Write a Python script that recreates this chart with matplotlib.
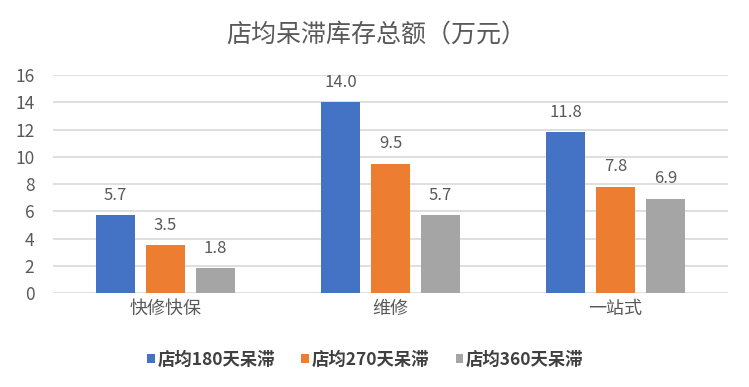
import matplotlib
matplotlib.use("Agg")
import matplotlib.pyplot as plt
import numpy as np

plt.rcParams['font.family'] = ['Noto Sans CJK SC', 'DejaVu Sans']

categories = ['快修快保', '维修', '一站式']
series_names = ['店均180天呆滞', '店均270天呆滞', '店均360天呆滞']
v180 = [5.7, 14.0, 11.8]
v270 = [3.5, 9.5, 7.8]
v360 = [1.8, 5.7, 6.9]
colors = ['#4472C4', '#ED7D31', '#A5A5A5']
yticks = [0, 2, 4, 6, 8, 10, 12, 14, 16]

fig = plt.figure(figsize=(7.49, 3.87), dpi=100)
ax = fig.add_axes([0.0708, 0.2429, 0.901, 0.563])

x = np.arange(len(categories))
width = 0.173
step = 0.222
for j, (vals, name, c) in enumerate(zip([v180, v270, v360], series_names, colors)):
    pos = x + (j - 1) * step
    ax.bar(pos, vals, width, color=c, label=name, zorder=3)
    for p, v in zip(pos, vals):
        ax.text(p, v + 0.85, f'{v:.1f}', ha='center', va='bottom', fontsize=12, color='#595959')

ax.set_xlim(-0.5, 2.5)
ax.set_ylim(0, 16)
ax.set_yticks(yticks)
ax.set_xticks(x)
ax.set_xticklabels(categories)
ax.tick_params(axis='both', length=0, labelcolor='#595959')
ax.tick_params(axis='y', pad=13.5, labelsize=12.5)
ax.tick_params(axis='x', pad=5, labelsize=13)
ax.grid(axis='y', color='#D9D9D9', linewidth=1.2, zorder=0)
for s in ax.spines.values():
    s.set_visible(False)

fig.text(0.503, 0.91, '店均呆滞库存总额（万元）', ha='center', va='center', fontsize=18, color='#595959')

handles, labels = ax.get_legend_handles_labels()
leg = fig.legend(handles, labels, loc='center', bbox_to_anchor=(0.488, 0.07), ncol=3, frameon=False,
                 handlelength=0.45, handleheight=0.45, handletextpad=0.15, columnspacing=1.5,
                 prop={'size': 12.5, 'weight': 'bold'})
for t in leg.get_texts():
    t.set_color('#404040')

fig.savefig('out.png', dpi=100)
